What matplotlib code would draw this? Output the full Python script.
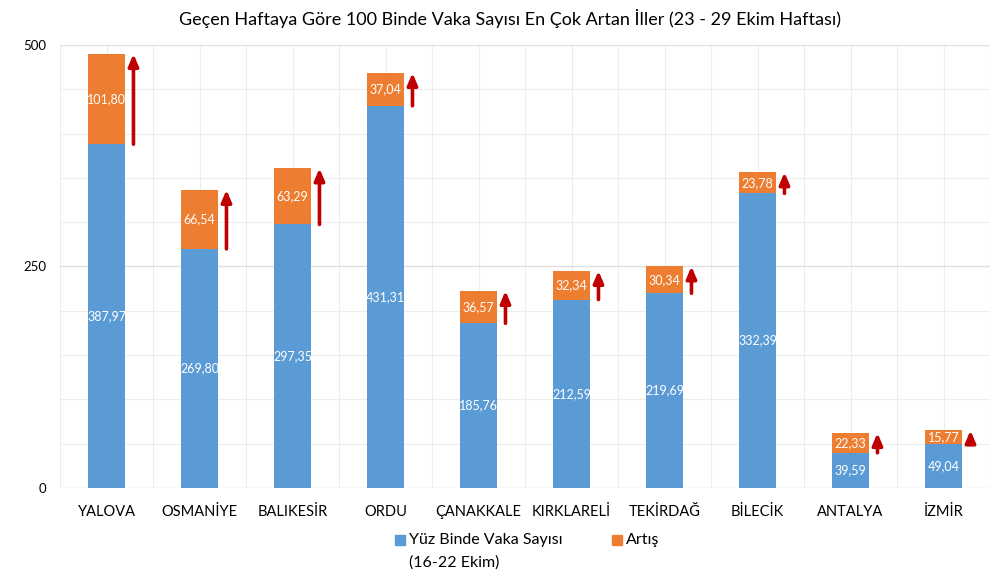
import matplotlib.pyplot as plt
import matplotlib.patches as mpatches
from matplotlib.ticker import MultipleLocator

plt.rcParams['font.family'] = ['Lato', 'DejaVu Sans']

# Data
iller = ["YALOVA", "OSMANİYE", "BALIKESİR", "ORDU", "ÇANAKKALE",
         "KIRKLARELİ", "TEKİRDAĞ", "BİLECİK", "ANTALYA", "İZMİR"]
onceki_hafta = [387.97, 269.80, 297.35, 431.31, 185.76,
                212.59, 219.69, 332.39, 39.59, 49.04]
artis = [101.80, 66.54, 63.29, 37.04, 36.57,
         32.34, 30.34, 23.78, 22.33, 15.77]
y_ticks = [0, 250, 500]

BLUE = '#5B9BD5'
ORANGE = '#ED7D31'
ARROW = '#C00000'


def fmt(v):
    return f"{v:.2f}".replace('.', ',')


fig = plt.figure(figsize=(10, 5.76), dpi=100)
ax = fig.add_axes([0.06, 0.153, 0.93, 0.769])

x = list(range(len(iller)))
ax.bar(x, onceki_hafta, width=0.4, color=BLUE, zorder=3)
ax.bar(x, artis, width=0.4, bottom=onceki_hafta, color=ORANGE, zorder=3)

for xi, b, a in zip(x, onceki_hafta, artis):
    ax.text(xi, b / 2, fmt(b), ha='center', va='center', color='white',
            fontsize=9, zorder=4)
    ax.text(xi, b + a / 2, fmt(a), ha='center', va='center', color='white',
            fontsize=9, zorder=4)
    # red arrow next to the increase
    ax.annotate('', xy=(xi + 0.29, b + a), xytext=(xi + 0.29, b),
                arrowprops=dict(arrowstyle='-|>,head_width=0.3,head_length=0.7',
                                lw=2.6, color=ARROW, shrinkA=0, shrinkB=0),
                zorder=5)

ax.set_xlim(-0.5, 9.5)
ax.set_ylim(0, 500)
ax.set_xticks(x)
ax.set_xticklabels(iller, fontsize=10.5)
ax.set_yticks(y_ticks)
ax.set_yticklabels([str(t) for t in y_ticks], fontsize=9.5)

# faint spreadsheet-like grid
ax.yaxis.set_minor_locator(MultipleLocator(50))
ax.xaxis.set_minor_locator(MultipleLocator(0.5))
ax.grid(which='both', color='#EDEDED', lw=0.8, zorder=0)
ax.grid(which='major', axis='y', color='#E0E0E0', lw=1.0, zorder=0)
ax.tick_params(which='both', length=0)
ax.tick_params(axis='x', pad=12)
ax.tick_params(axis='y', pad=10)
for s in ax.spines.values():
    s.set_visible(False)

fig.text(0.51, 0.968, "Geçen Haftaya Göre 100 Binde Vaka Sayısı En Çok Artan İller (23 - 29 Ekim Haftası)",
         ha='center', va='center', fontsize=13)

# legend
fig.patches.append(mpatches.Rectangle((0.395, 0.053), 0.01, 0.0175, color=BLUE,
                                      transform=fig.transFigure, figure=fig))
fig.text(0.409, 0.062, "Yüz Binde Vaka Sayısı", ha='left', va='center', fontsize=11.5)
fig.text(0.409, 0.024, "(16-22 Ekim)", ha='left', va='center', fontsize=11.5)
fig.patches.append(mpatches.Rectangle((0.612, 0.053), 0.01, 0.0175, color=ORANGE,
                                      transform=fig.transFigure, figure=fig))
fig.text(0.626, 0.062, "Artış", ha='left', va='center', fontsize=11.5)

fig.savefig('out.png', dpi=100)
